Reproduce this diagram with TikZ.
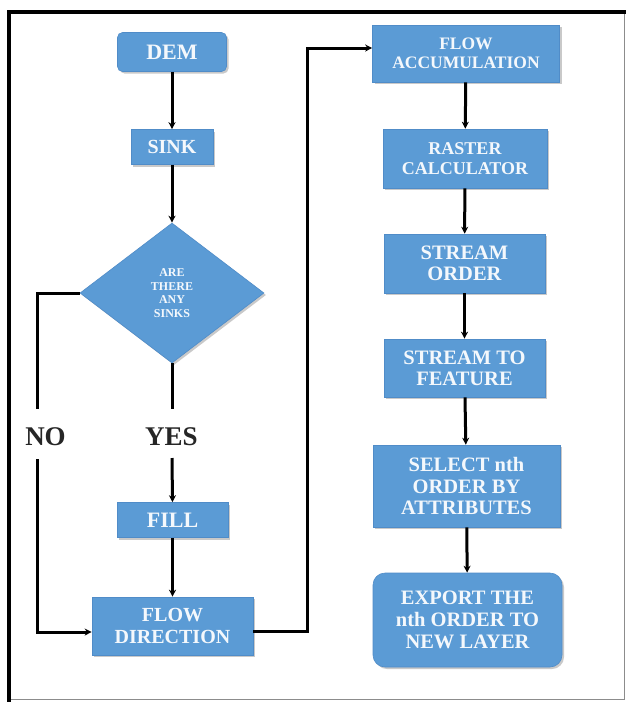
\documentclass[tikz,border=0pt]{standalone}
\usepackage{fontspec}
\setmainfont{Liberation Serif}
\usetikzlibrary{shapes.geometric,shadows,arrows.meta}
\definecolor{boxblue}{RGB}{91,155,213}
\definecolor{boxedge}{RGB}{80,140,200}
\definecolor{boxtext}{RGB}{244,248,252}
\tikzset{
  box/.style={draw=boxedge, line width=0.6pt, fill=boxblue, text=boxtext, align=center,
    inner sep=0pt, font=\bfseries,
    drop shadow={shadow xshift=2pt, shadow yshift=-2pt, opacity=0.35, fill=black!60}},
  dia/.style={shape=diamond, draw=boxedge, line width=0.6pt, fill=boxblue, text=boxtext, align=center,
    inner sep=0pt, font=\bfseries,
    drop shadow={shadow xshift=2pt, shadow yshift=-2pt, opacity=0.35, fill=black!60}},
  conn/.style={line width=3pt, draw=black},
  arr/.style={conn, -{Stealth[length=7pt,width=7pt]}},
  lbl/.style={font=\bfseries\fontsize{27}{28}\selectfont, text=black!85, inner sep=0pt}
}
\begin{document}
\begin{tikzpicture}[x=1pt,y=-1pt]
\useasboundingbox (0,0) rectangle (626,702);
\fill[white] (0,0) rectangle (626,702);
% frame
\draw[line width=0.8pt, black!45] (624,12) -- (624,699) -- (10,699);
\draw[line width=4pt, black] (626,12) -- (9,12) -- (9,702);
% left column
\node[box, rounded corners=5pt, minimum width=109pt, minimum height=39pt, font=\bfseries\fontsize{22}{23}\selectfont] (dem) at (172,52) {DEM};
\node[box, minimum width=82pt, minimum height=35pt, font=\bfseries\fontsize{20}{21}\selectfont] (sink) at (172,147) {SINK};
\node[dia, minimum width=184pt, minimum height=140pt, shape aspect=1.31, font=\bfseries\fontsize{12}{13.7}\selectfont] (q) at (172,293) {ARE\\THERE\\ANY\\SINKS};
\node[lbl] (no) at (45.5,437) {NO};
\node[lbl] (yes) at (171.5,437) {YES};
\node[box, minimum width=111pt, minimum height=35pt, font=\bfseries\fontsize{22}{23}\selectfont] (fill) at (172.5,520) {FILL};
\node[box, minimum width=161pt, minimum height=58pt, font=\bfseries\fontsize{20}{22}\selectfont] (fd) at (172.5,626) {FLOW\\DIRECTION};
% right column
\node[box, minimum width=187pt, minimum height=57pt, font=\bfseries\fontsize{17.5}{18.5}\selectfont] (fa) at (466,53.5) {FLOW\\ACCUMULATION};
\node[box, minimum width=164pt, minimum height=59pt, font=\bfseries\fontsize{18}{19.5}\selectfont] (rc) at (465,158.5) {RASTER\\CALCULATOR};
\node[box, minimum width=161pt, minimum height=59pt, font=\bfseries\fontsize{20.5}{20.5}\selectfont] (so) at (464.5,263.5) {STREAM\\ORDER};
\node[box, minimum width=161pt, minimum height=58pt, font=\bfseries\fontsize{20.5}{21}\selectfont] (sf) at (464.5,368) {STREAM TO\\FEATURE};
\node[box, minimum width=187pt, minimum height=82pt, font=\bfseries\fontsize{20.5}{21.7}\selectfont] (sel) at (466.5,486) {SELECT nth\\ORDER BY\\ATTRIBUTES};
\node[box, rounded corners=12pt, minimum width=189pt, minimum height=94pt, font=\bfseries\fontsize{20.5}{22}\selectfont] (exp) at (467.5,620) {EXPORT THE\\nth ORDER TO\\NEW LAYER};
% connector waypoints
\coordinate (noTop) at (37,409);
\coordinate (noBot) at (37,459);
\coordinate (yesTop) at (172,409);
\coordinate (yesBot) at (172,458);
\coordinate (riser) at (307,0);
\coordinate (fdOut) at ([yshift=-5pt]fd.east);
\coordinate (fdIn) at ([yshift=-6pt]fd.west);
\coordinate (faIn) at ([yshift=5.5pt]fa.west);
% connectors
\draw[arr] (dem) -- (sink);
\draw[arr] (sink) -- (q.north);
\draw[conn] (q.west) -| (noTop);
\draw[arr] (noBot) |- (fdIn);
\draw[conn] (q.south) -- (yesTop);
\draw[arr] (yesBot) -- (fill.north);
\draw[arr] (fill) -- (fd);
\draw[arr] (fdOut) -| (riser |- faIn) -- (faIn);
\draw[arr] (fa) -- (rc);
\draw[arr] (rc) -- (so);
\draw[arr] (so) -- (sf);
\draw[arr] (sf) -- (sel);
\draw[arr] (sel) -- (exp);
\end{tikzpicture}
\end{document}
